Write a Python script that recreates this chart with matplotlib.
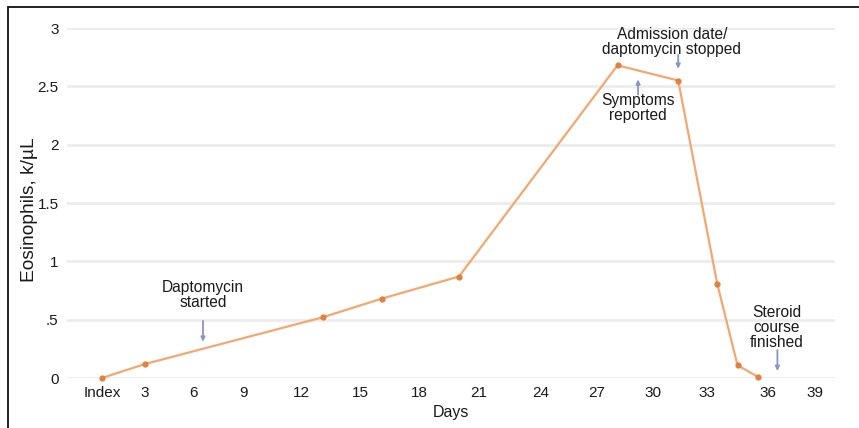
import numpy as np
import matplotlib
matplotlib.use("Agg")
import matplotlib.pyplot as plt
from matplotlib.patches import Rectangle

plt.rcParams['font.family'] = ['Liberation Sans', 'DejaVu Sans']

# ---- data ----
days = [0, 3, 13.1, 16.1, 20, 28.1, 31.4, 33.5, 34.5, 35.5]
eosinophils = [0.0, 0.12, 0.52, 0.68, 0.87, 2.68, 2.55, 0.81, 0.11, 0.01]

tick_days = [0, 3, 6, 9, 12, 15, 18, 21, 24, 27, 30, 33, 36, 39]
tick_labels = ["Index", "3", "6", "9", "12", "15", "18", "21", "24", "27", "30", "33", "36", "39"]
y_ticks = [0, 0.5, 1, 1.5, 2, 2.5, 3]
y_tick_labels = ["0", ".5", "1", "1.5", "2", "2.5", "3"]

annotations = [
    # text, arrow x, head y, tail y, text x, text y, text va
    ("Daptomycin\nstarted", 6.6, 0.31, 0.49, 6.6, 0.71, "center"),
    ("Symptoms\nreported", 29.2, 2.56, 2.43, 29.2, 2.44, "top"),
    ("Admission date/\ndaptomycin stopped", 31.4, 2.65, 2.77, 31.05, 2.88, "center"),
    ("Steroid\ncourse\nfinished", 36.6, 0.06, 0.24, 36.55, 0.43, "center"),
]

# piecewise x scale matching the irregular tick spacing of the original
anchor_days = np.array([-10] + tick_days + [50], dtype=float)
anchor_pos = np.array([102 - 10 * 14.3, 102, 145, 193, 243, 301, 360, 419, 479,
                       541, 597, 653, 707, 768, 815, 815 + 11 * 15.7])

def fwd(x):
    return np.interp(x, anchor_days, anchor_pos)

def inv(p):
    return np.interp(p, anchor_pos, anchor_days)

W, H = 859, 428
fig = plt.figure(figsize=(W / 100, H / 100), dpi=100)
ax = fig.add_axes([67 / W, 1 - 378 / H, (835 - 67) / W, (378 - 28) / H])

ax.set_xscale('function', functions=(fwd, inv))
ax.set_xlim(inv(67), inv(835))
ax.set_ylim(0, 3)

ax.plot(days, eosinophils, color='#f3a870', lw=1.6, zorder=3, clip_on=False)
ax.plot(days, eosinophils, 'o', color='#e0823f', ms=3.5, zorder=4, clip_on=False)

ax.set_xticks(tick_days)
ax.set_xticklabels(tick_labels)
ax.xaxis.set_minor_locator(matplotlib.ticker.NullLocator())
ax.set_yticks(y_ticks)
ax.set_yticklabels(y_tick_labels)
ax.tick_params(axis='both', length=0, labelsize=11, colors='#1a1a1a')
ax.tick_params(axis='x', pad=6)
ax.tick_params(axis='y', pad=6)

ax.grid(axis='y', color='#ececec', lw=2.0)
ax.set_axisbelow(True)
for s in ax.spines.values():
    s.set_visible(False)

ax.set_xlabel("Days", fontsize=11.5, labelpad=3, color='#1a1a1a')
ax.set_ylabel("Eosinophils, k/\u00b5L", fontsize=13.8, color='#1a1a1a')
ax.yaxis.set_label_coords((38 - 67) / 768, 0.48)

for text, ax_x, head_y, tail_y, tx, ty, va in annotations:
    ax.annotate("", xy=(ax_x, head_y), xytext=(ax_x, tail_y),
                arrowprops=dict(arrowstyle='-|>,head_length=0.25,head_width=0.12',
                                color='#8795c8', lw=1.3, shrinkA=0, shrinkB=0),
                zorder=5)
    ax.text(tx, ty, text, ha='center', va=va, fontsize=11.2,
            linespacing=1.0, color='#1a1a1a', zorder=6)

fig.patches.append(Rectangle((8 / W, -20 / H), (880 - 8) / W, (421 + 20) / H,
                             transform=fig.transFigure, fill=False,
                             edgecolor='#111111', lw=1.3))

fig.savefig("out.png", dpi=100)
